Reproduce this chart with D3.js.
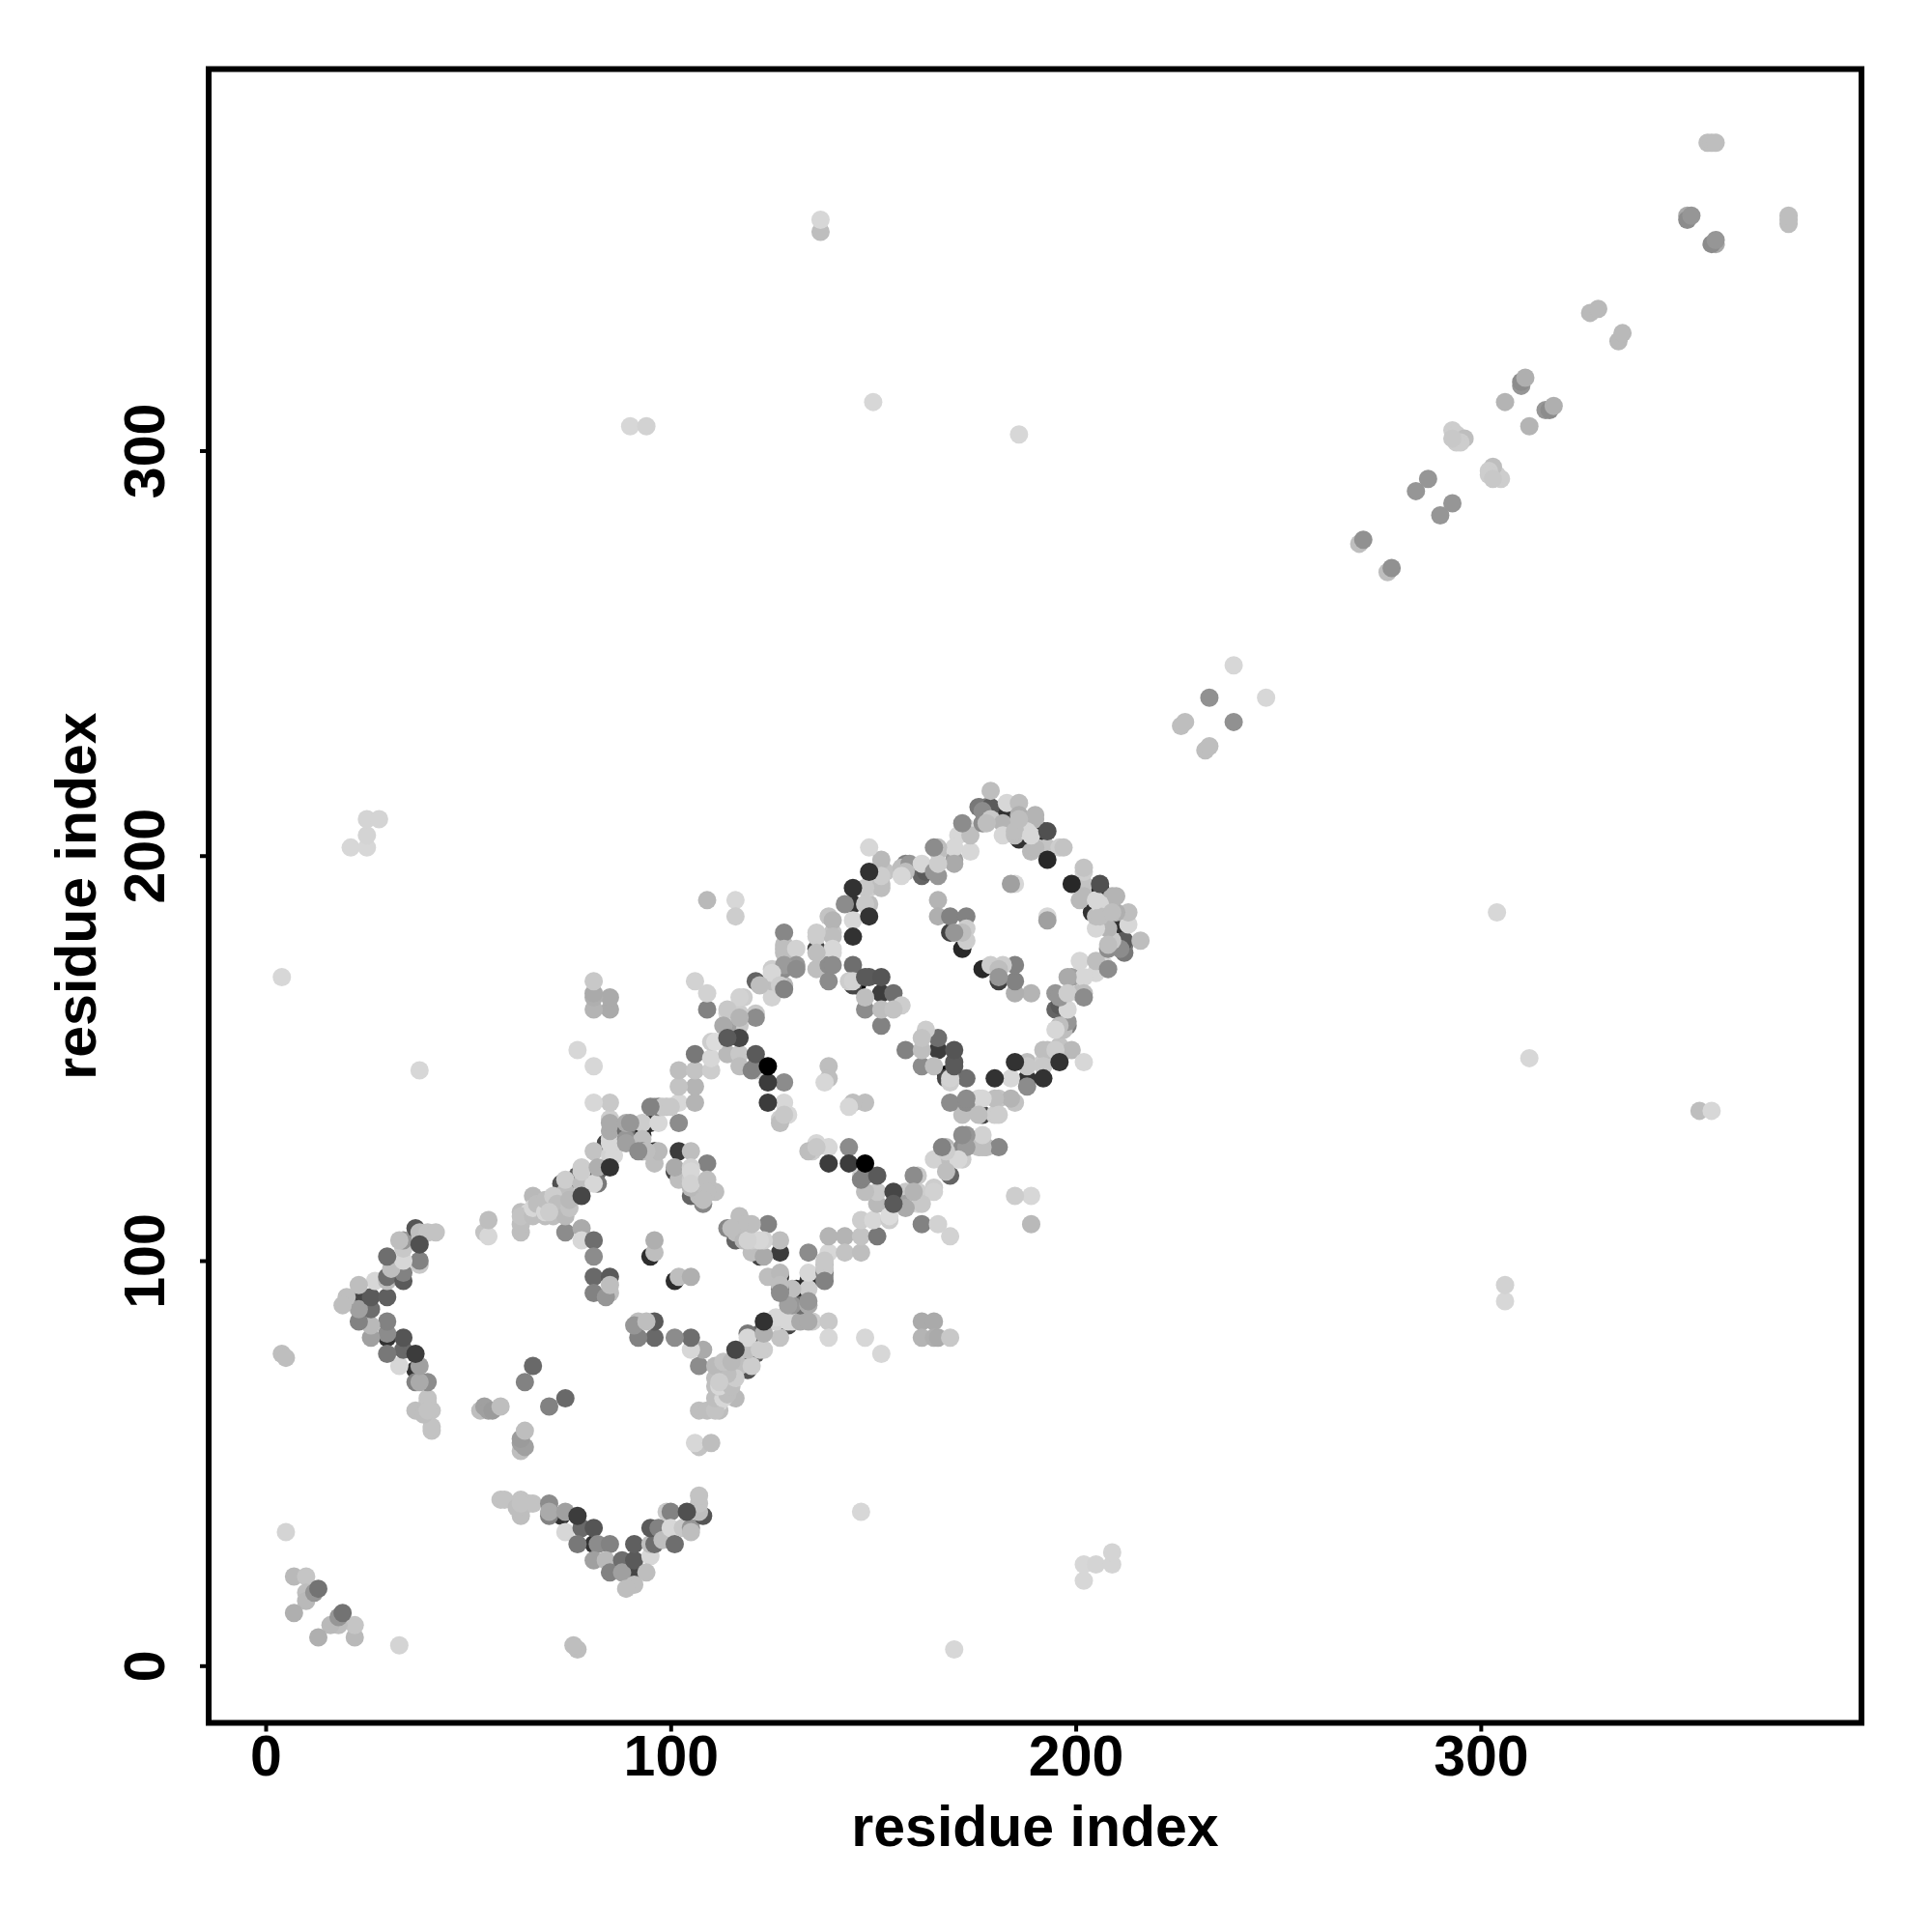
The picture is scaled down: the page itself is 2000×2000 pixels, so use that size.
<!DOCTYPE html>
<html>
<head>
<meta charset="utf-8">
<script src="https://cdn.jsdelivr.net/npm/d3@7"></script>
<style>
  body { margin: 0; background: #fff; }
  text { font-family: "Liberation Sans", Arial, sans-serif; font-weight: bold; fill: #000; }
</style>
</head>
<body>
<div id="chart"></div>
<script>
// Contact pairs as [residue a, residue b, grey level], a < b.
// Each pair is drawn on both sides of the diagonal, lists are in drawing order.
const pairs_under = [
  [37,73,50],[30,81,50],[96,127,50],[95,101,45],[101,122,70],[74,119,70],[77,121,90],[84,129,70],[95,134,50],[136,177,70],
  [146,168,10],[145,168,70],[183,211,50],[186,204,50],[192,206,40],[162,196,40],[172,177,40],[169,181,65],[152,166,60],[82,122,100],
  [93,131,40],[162,195,100],[73,119,80],[23,91,70],[178,212,120],[176,212,120],[166,195,150],[158,198,130],
  [145,188,50],[163,196,90],[102,127,60],[179,212,90]
];
const pairs_low = [
  [5,33,212],[7,22,185],[10,22,197],[10,18,190],[10,16,185],[7,13,175],[12,18,150],[4,77,190],[5,76,190],[4,170,215],
  [38,147,215],[21,202,215],[25,202,215],[25,205,212],[25,209,212],[28,209,212]
];
const pairs_chevron = [
  [41,58,195],[41,59,195],[41,63,195],[40,65,195],[40,66,195],[37,63,190],[39,62,190],[40,63,195],[40,70,140],[37,70,130],
  [38,70,170],[38,74,160],[33,74,215],[34,78,105],[34,81,85],[30,77,120],[30,82,140],[30,85,130],[26,81,160],[26,84,185],
  [23,85,130],[26,88,110],[23,88,160],[26,91,90],[20,91,190],[19,89,190],[27,95,215],[23,94,190],[30,91,95],[30,95,190],
  [30,96,110],[34,95,90],[34,97,130],[31,98,190],[38,99,200],[38,100,130],[34,100,215],[30,101,110],[34,103,200],[34,105,150],
  [33,105,190],[37,108,85],[38,107,190],[40,107,195],[42,107,195]
];
const pairs_islets = [
  [66,74,105],[64,70,130],[53,63,190],[54,64,160],[55,63,160],[56,63,155],[58,64,190],[54,107,195],[55,106,215],[55,110,190]
];
const pairs_arm = [
  [63,107,190],[63,112,190],[65,112,215],[66,116,185],[69,113,190],[71,115,195],[71,111,190],[74,117,190],[74,107,140],[74,113,190],
  [74,120,205],[78,123,205],[78,119,190],[78,108,170],[78,105,215],[82,119,120],[81,127,195],[85,126,210],[85,130,215],[85,135,205],
  [85,139,200],[81,139,215],[81,148,215],[77,152,215],[81,105,110],[81,101,140],[81,96,105],[85,96,90],[85,92,190],[81,92,130],
  [84,91,150],[85,94,190],[81,119,215],[78,122,205],[82,123,175],[86,126,215],[85,129,215],[85,132,170],[85,134,170],[85,162,170],
  [85,165,170],[81,162,180],[81,165,175],[81,166,170],[81,169,200],[63,109,190],[63,111,195],[66,111,190],[66,113,215],[67,114,190],
  [69,111,190],[69,112,215],[69,115,190],[71,116,205],[72,114,190],[74,111,185],[75,113,195],[75,115,185],[70,112,205]
];
const pairs_centre = [
  [96,102,190],[96,105,175],[89,132,110],[93,134,205],[92,129,130],[89,130,150],[89,134,170],[96,138,170],[97,134,215],[102,139,215],
  [102,134,140],[99,138,190],[97,138,130],[106,139,180],[106,143,180],[102,143,195],[102,147,190],[106,147,195],[106,151,120],[110,147,205],
  [110,150,215],[114,151,185],[117,151,200],[121,147,205],[117,148,190],[120,147,130],[128,144,140],[128,139,215],[127,135,205],[129,136,215],
  [127,134,190],[139,148,190],[139,145,190],[138,144,215],[93,130,190],[89,129,160],[90,134,150],[98,138,200],[100,138,200],[95,138,130],
  [110,154,205],[111,154,220],[117,158,200],[114,158,160],[114,161,215],[117,161,205],[121,148,130],[128,136,200],[121,161,200],[125,165,210],
  [118,165,205],[121,169,100],[125,169,190],[125,172,205],[128,168,185],[128,172,140],[128,176,190],[128,178,190],[128,181,135],[109,162,130],
  [109,166,210],[106,169,210],[109,189,185],[116,189,215],[116,185,205],[108,114,135],[111,117,190],[105,116,100],[107,116,190],[109,119,190],
  [109,124,130],[105,127,190],[102,120,190],[101,123,170],[105,123,210],[105,120,205],[96,124,190],[97,127,185],[93,127,130],[94,127,190],
  [105,118,185],[92,127,140],[105,122,215],[105,119,210],[109,120,190],[109,117,190],[108,115,190]
];
const pairs_band = [
  [128,177,190],[131,177,210],[131,173,150],[128,173,155],[125,171,215],[127,168,205],[128,167,130],[122,168,190],[117,165,210],[121,160,140],
  [114,162,200],[113,158,170],[117,160,180],[136,180,205],[136,172,190],[140,181,195],[140,176,215],[139,173,140],[139,169,140],[139,185,195],
  [143,188,140],[145,184,215],[149,188,190],[149,192,205],[153,196,195],[152,199,185],[149,202,215],[152,192,190],[157,197,190],[159,198,150],
  [158,196,190],[162,198,215],[165,196,150],[166,201,190],[170,199,160],[173,207,215],[171,205,215],[174,201,215],[174,205,190],[170,202,215],
  [177,211,140],[177,208,140],[179,216,190],[179,209,200],[182,208,180],[183,213,215],[182,205,215],[186,213,190],[186,210,175],[185,205,190],
  [190,209,180],[189,201,185],[193,202,195],[196,202,205],[188,206,215],[185,206,190],[197,202,195],[190,202,185],[190,210,180],[189,205,215],
  [186,209,190],[178,208,190],[172,208,140],[170,198,170],[166,202,190],[166,198,205],[165,202,140],[157,195,215],[152,193,190],[152,195,205],
  [148,192,200],[148,188,200],[140,184,180],[140,180,190],[140,177,215],[140,173,140],[136,176,190],[136,181,205],[131,172,140]
];
const pairs_inner = [
  [166,189,180],[166,185,175],[169,185,130],[173,185,130],[173,179,205],[173,182,205],[172,181,190],[170,181,150],[185,193,215],[184,193,160],
  [145,173,110],[144,169,205],[155,166,110],[148,162,140],[148,165,190],[152,158,130],[152,162,190],[157,163,205],[155,162,195],[149,170,90],
  [145,169,210]
];
const pairs_far = [
  [226,232,190],[227,233,190],[233,239,145],[239,247,215],[270,277,190],[271,278,145],[284,290,150],[287,293,150],[293,305,205],[294,304,205],
  [296,303,190],[295,302,205],[294,302,205],[293,303,200],[306,312,180],[310,316,150],[310,317,140],[311,318,175],[327,334,185],[329,335,185],
  [351,358,170],[351,357,140],[352,358,150],[356,376,190],[357,376,190],[358,376,190],[90,306,215],[94,306,210],[150,312,215],[186,304,215],
  [137,354,190],[137,357,215]
];
const pairs_top = [
  [124,144,60],[124,139,60],[145,180,50],[149,185,50],[145,192,50],[149,196,50],[193,199,40],[85,123,50],[78,116,70],[117,155,70],
  [114,155,90],[121,151,90],[37,77,60],[38,104,80],[13,19,115],[193,206,80],[148,170,90],[152,170,85],[124,148,0]
];

const tick_values = [0, 100, 200, 300];
const axis_label = "residue index";

// frame position in page pixels, domains (4.193 px per residue)
const frame = { left: 216, right: 1927, top: 71.5, bottom: 1783.5 };
const dot_radius = 9.5;
const font_size = 59;

const svg = d3.select("#chart").append("svg")
    .attr("width", 2000)
    .attr("height", 2000);

const xScale = d3.scaleLinear().domain([-14.07, 394.0]).range([frame.left, frame.right]);
const yScale = d3.scaleLinear().domain([-14.12, 394.2]).range([frame.bottom, frame.top]);

// every pair drawn twice, keeping the overplotting order of the lists
const points = [];
[pairs_under, pairs_low, pairs_chevron, pairs_islets, pairs_arm, pairs_centre, pairs_band, pairs_inner, pairs_far, pairs_top]
    .flat()
    .forEach(([a, b, grey]) => {
        points.push({ x: a, y: b, grey });
        points.push({ x: b, y: a, grey });
    });

svg.append("g").selectAll("circle")
    .data(points)
    .join("circle")
    .attr("cx", d => xScale(d.x))
    .attr("cy", d => yScale(d.y))
    .attr("r", dot_radius)
    .attr("fill", d => d3.rgb(d.grey, d.grey, d.grey));

// Axes: only the ticks, the frame is drawn on its own
const xAxis = svg.append("g")
    .attr("transform", `translate(0,${frame.bottom})`)
    .call(d3.axisBottom(xScale).tickValues(tick_values).tickSize(9));
const yAxis = svg.append("g")
    .attr("transform", `translate(${frame.left},0)`)
    .call(d3.axisLeft(yScale).tickValues(tick_values).tickSize(9));

xAxis.select(".domain").remove();
yAxis.select(".domain").remove();
svg.selectAll(".tick line").attr("stroke", "#000").attr("stroke-width", 4);

xAxis.selectAll("text")
    .attr("font-size", font_size)
    .attr("font-family", "Liberation Sans")
    .attr("font-weight", "bold")
    .attr("dy", 0)
    .attr("y", 1838 - frame.bottom);

yAxis.selectAll("text")
    .attr("font-size", font_size)
    .attr("font-family", "Liberation Sans")
    .attr("font-weight", "bold")
    .attr("text-anchor", "middle")
    .attr("dy", 0)
    .attr("x", 0)
    .attr("transform", `translate(${170 - frame.left},0) rotate(-90)`);

svg.append("rect")
    .attr("x", frame.left)
    .attr("y", frame.top)
    .attr("width", frame.right - frame.left)
    .attr("height", frame.bottom - frame.top)
    .attr("fill", "none")
    .attr("stroke", "#000")
    .attr("stroke-width", 6);

svg.append("text")
    .attr("x", (frame.left + frame.right) / 2)
    .attr("y", 1911)
    .attr("text-anchor", "middle")
    .attr("font-size", font_size)
    .text(axis_label);

svg.append("text")
    .attr("transform", `translate(99,${(frame.top + frame.bottom) / 2}) rotate(-90)`)
    .attr("text-anchor", "middle")
    .attr("font-size", font_size)
    .text(axis_label);
</script>
</body>
</html>
